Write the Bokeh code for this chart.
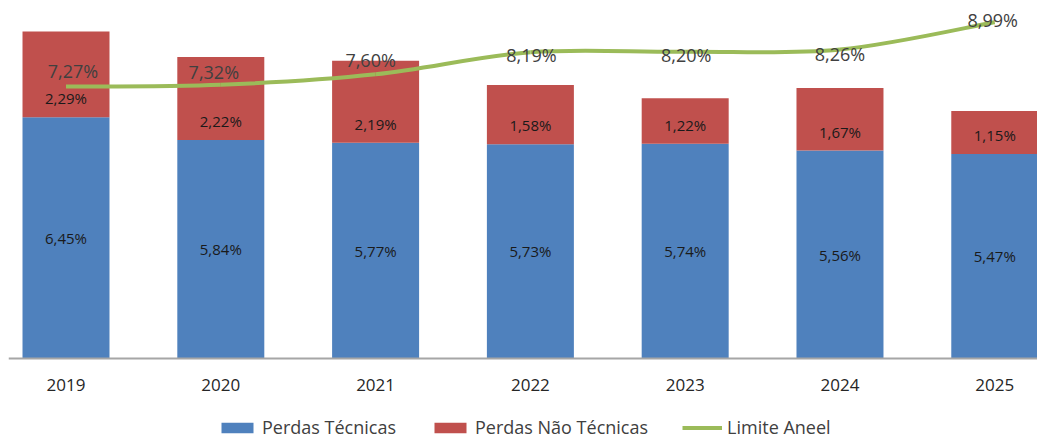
from bokeh.plotting import figure
from bokeh.models import Range1d, FixedTicker, Legend, LegendItem, ColumnDataSource
from bokeh.core.properties import value
from bokeh.embed import file_html
from bokeh.resources import INLINE

# ---- data ----
anos = ["2019", "2020", "2021", "2022", "2023", "2024", "2025"]
perdas_tecnicas = [6.45, 5.84, 5.77, 5.73, 5.74, 5.56, 5.47]
perdas_nao_tecnicas = [2.29, 2.22, 2.19, 1.58, 1.22, 1.67, 1.15]
limite_aneel = [7.27, 7.32, 7.60, 8.19, 8.20, 8.26, 8.99]

BLUE = "#4F81BD"
RED = "#C0504D"
GREEN = "#9BBB59"
FONT = "Open Sans"

def fmt(v):
    return f"{v:.2f}".replace(".", ",") + "%"

n = len(anos)
xs = list(range(n))
totais = [a + b for a, b in zip(perdas_tecnicas, perdas_nao_tecnicas)]

FRAME_H = 439
FRAME_W = 1029
Y_START, Y_END = -2.166, 9.572
X_START, X_END = -0.3715, 6.276
upp_y = (Y_END - Y_START) / FRAME_H  # data units per pixel (y)
upp_x = (X_END - X_START) / FRAME_W  # data units per pixel (x)

src = ColumnDataSource(dict(
    x=xs,
    tec=perdas_tecnicas,
    tot=totais,
    tec_mid=[v / 2 for v in perdas_tecnicas],
    tec_lbl=[fmt(v) for v in perdas_tecnicas],
    nt_y=[v + 19 * upp_y for v in perdas_tecnicas],
    nt_lbl=[fmt(v) for v in perdas_nao_tecnicas],
))

p = figure(frame_width=FRAME_W, frame_height=FRAME_H,
           output_backend="svg", toolbar_location=None,
           x_range=Range1d(X_START, X_END), y_range=Range1d(Y_START, Y_END),
           y_axis_location=None,
           min_border_left=8, min_border_right=0, min_border_top=0,
           min_border_bottom=0)
p.xgrid.visible = False
p.ygrid.visible = False
p.outline_line_color = None

BW = 0.562
r_blue = p.vbar(x="x", width=BW, bottom=0, top="tec", source=src,
                fill_color=BLUE, line_color=None)
r_red = p.vbar(x="x", width=BW, bottom="tec", top="tot", source=src,
               fill_color=RED, line_color=None)

p.text(x="x", y="tec_mid", text="tec_lbl", source=src,
       text_align="center", text_baseline="middle",
       text_font=value(FONT), text_font_size="15px", text_color="#1a1a1a")
p.text(x="x", y="nt_y", text="nt_lbl", source=src,
       text_align="center", text_baseline="middle",
       text_font=value(FONT), text_font_size="15px", text_color="#1a1a1a")

# smooth line (Catmull-Rom -> cubic bezier segments)
x0, y0, x1, y1, cx0, cy0, cx1, cy1 = [], [], [], [], [], [], [], []
for i in range(n - 1):
    pm = max(i - 1, 0)
    pn = min(i + 2, n - 1)
    x0.append(xs[i]); y0.append(limite_aneel[i])
    x1.append(xs[i + 1]); y1.append(limite_aneel[i + 1])
    cx0.append(xs[i] + (xs[i + 1] - xs[pm]) / 6)
    cy0.append(limite_aneel[i] + (limite_aneel[i + 1] - limite_aneel[pm]) / 6)
    cx1.append(xs[i + 1] - (xs[pn] - xs[i]) / 6)
    cy1.append(limite_aneel[i + 1] - (limite_aneel[pn] - limite_aneel[i]) / 6)
p.bezier(x0=x0, y0=y0, x1=x1, y1=y1, cx0=cx0, cy0=cy0, cx1=cx1, cy1=cy1,
         line_color=GREEN, line_width=4)
r_line = p.line(x=xs[:1], y=limite_aneel[:1], line_color=GREEN, line_width=4)

# label offsets in pixels (dx right, dy up)
lab_dx = [7, -7, -5, 1, 1, 0, -2]
lab_dy = [16, 13, 14, -3, -3, -4, 2]
p.text(x=[xv + dx * upp_x for xv, dx in zip(xs, lab_dx)],
       y=[yv + dy * upp_y for yv, dy in zip(limite_aneel, lab_dy)],
       text=[fmt(v) for v in limite_aneel],
       text_align="center", text_baseline="middle",
       text_font=value(FONT), text_font_size="18px", text_color="#404040")

# axis (drawn at the value 0 inside the frame)
p.xaxis.fixed_location = 0
p.xaxis.ticker = FixedTicker(ticks=xs)
p.xaxis.major_label_overrides = {i: a for i, a in zip(xs, anos)}
p.xaxis.major_tick_line_color = None
p.xaxis.minor_tick_line_color = None
p.xaxis.major_tick_out = 0
p.xaxis.major_tick_in = 0
p.xaxis.axis_line_color = "#A6A6A6"
p.xaxis.axis_line_width = 2
p.xaxis.major_label_standoff = 21
p.xaxis.major_label_text_font = FONT
p.xaxis.major_label_text_font_size = "17px"
p.xaxis.major_label_text_color = "#262626"

legend = Legend(items=[
    LegendItem(label="Perdas Técnicas", renderers=[r_blue]),
    LegendItem(label="Perdas Não Técnicas", renderers=[r_red]),
    LegendItem(label="Limite Aneel", renderers=[r_line]),
], orientation="horizontal", location=(209, 0),
    label_text_font=FONT, label_text_font_size="18px", label_text_color="#404040",
    glyph_width=40, glyph_height=13, spacing=34, label_standoff=5,
    padding=0, margin=0, border_line_color=None, background_fill_alpha=0)
p.add_layout(legend, "center")

open("out.html", "w").write(file_html(p, INLINE))
